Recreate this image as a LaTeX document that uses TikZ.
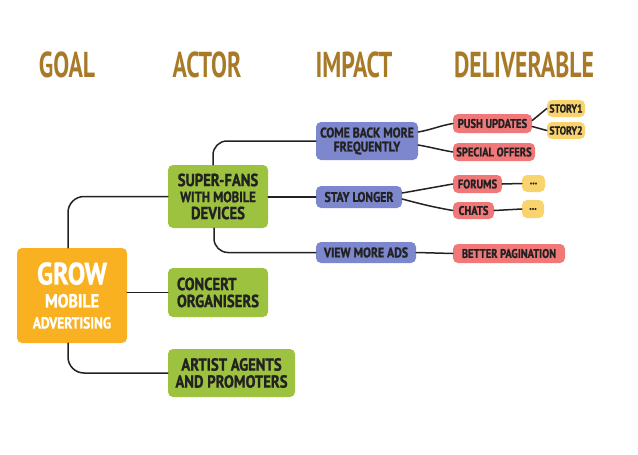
\documentclass[tikz,border=0pt]{standalone}
\usepackage{fontspec}
\newfontfamily\hand{PT Sans}[FakeStretch=0.84,FakeBold=1.2]
\newfontfamily\headf{PT Sans}[FakeStretch=0.66]
\definecolor{hdr}{HTML}{A87A28}
\definecolor{cgoal}{HTML}{F9B122}
\definecolor{cact}{HTML}{9DC240}
\definecolor{cimp}{HTML}{7C87CE}
\definecolor{cdel}{HTML}{F07879}
\definecolor{cstory}{HTML}{F9D36E}
\definecolor{ink}{HTML}{222222}
\tikzset{
  box/.style={rounded corners=5pt, inner sep=0pt, align=center, text=ink, font=\hand\bfseries},
  goalbox/.style={box, fill=cgoal, text=white, font=\hand\bfseries\fontsize{16}{13}\selectfont},
  actbox/.style={box, fill=cact, font=\hand\bfseries\fontsize{17.5}{17}\selectfont},
  impbox/.style={box, fill=cimp, font=\hand\bfseries\fontsize{14}{14}\selectfont},
  delbox/.style={box, fill=cdel, font=\hand\bfseries\fontsize{12.5}{12}\selectfont},
  storybox/.style={box, fill=cstory, font=\hand\bfseries\fontsize{11.5}{10}\selectfont},
  hdrtext/.style={text=hdr, font=\headf\bfseries\fontsize{36}{36}\selectfont, inner sep=0pt},
  link/.style={draw=ink, line width=1.5pt, line cap=round},
}
\begin{document}
\begin{tikzpicture}[x=1pt,y=-1pt]
\fill[white] (0,0) rectangle (638,455);
\useasboundingbox (0,0) rectangle (638,455);
% headers
\node[hdrtext] (hgoal) at (67,65) {GOAL};
\node[hdrtext] (hact) at (207,65) {ACTOR};
\node[hdrtext] (himp) at (354,65) {IMPACT};
\node[hdrtext] (hdel) at (524,65) {DELIVERABLE};
% goal
\node[goalbox, minimum width=110pt, minimum height=95pt] (goal) at (72,295.5)
  {{\fontsize{31}{13}\selectfont GROW}\\[8pt]{\fontsize{19}{13}\selectfont MOBILE}\\[8pt]ADVERTISING};
% actors
\node[actbox, minimum width=100pt, minimum height=63pt] (sf) at (218,196.5)
  {SUPER-FANS\\[-1pt]{\fontsize{15}{15}\selectfont WITH MOBILE}\\[0pt]DEVICES};
\node[actbox, minimum width=100pt, minimum height=49pt, align=left] (co) at (218,292.5)
  {CONCERT\\ORGANISERS\hspace{10pt}};
\node[actbox, minimum width=127pt, minimum height=48pt] (aa) at (231.5,373)
  {ARTIST AGENTS\\AND PROMOTERS};
% impacts
\node[impbox, minimum width=102pt, minimum height=38pt] (cb) at (367,141)
  {COME BACK MORE\\FREQUENTLY};
\node[impbox, minimum width=86pt, minimum height=22pt] (sl) at (359,197) {STAY LONGER};
\node[impbox, minimum width=100pt, minimum height=21pt] (vm) at (366,252.5) {VIEW MORE ADS};
% deliverables
\node[delbox, minimum width=79pt, minimum height=19pt] (pu) at (492.5,123.5) {PUSH UPDATES};
\node[delbox, minimum width=82pt, minimum height=18pt] (so) at (494,152) {SPECIAL OFFERS};
\node[delbox, minimum width=49pt, minimum height=18pt] (fo) at (477.5,184) {FORUMS};
\node[delbox, minimum width=41pt, minimum height=17pt] (ch) at (473.5,210.5) {CHATS};
\node[delbox, minimum width=112pt, minimum height=19pt] (bp) at (509,253.5) {BETTER PAGINATION};
% stories
\node[storybox, minimum width=38pt, minimum height=17pt] (s1) at (566,108.5) {STORY1};
\node[storybox, minimum width=38pt, minimum height=17pt] (s2) at (566,130.5) {STORY2};
\node[storybox, minimum width=23pt, minimum height=17pt] (d1) at (533.5,183.5) {...};
\node[storybox, minimum width=22pt, minimum height=18pt] (d2) at (533,209) {...};
% connectors
\draw[link, rounded corners=16pt] ([xshift=-4pt]goal.north) |- (sf.west);
\draw[link] (co.west -| goal.east) -- (co.west);
\draw[link, rounded corners=16pt] ([xshift=-4pt]goal.south) |- (aa.west);
\draw[link, rounded corners=14pt] ([xshift=-5pt]sf.north) |- (cb.west);
\draw[link] (sl.west -| sf.east) -- (sl.west);
\draw[link, rounded corners=14pt] ([xshift=-4pt]sf.south) |- (vm.west);
\draw[link] ([yshift=9pt]cb.east) to[out=10,in=190] (pu.west);
\draw[link] ([yshift=-4pt]cb.east) to[out=-10,in=170] (so.west);
\draw[link] ([yshift=4pt]sl.east) to[out=10,in=190] (fo.west);
\draw[link] ([yshift=-2pt]sl.east) to[out=-15,in=170] (ch.west);
\draw[link] (vm.east) -- (bp.west);
\draw[link] ([yshift=3pt]pu.east) -- (s1.west);
\draw[link] ([yshift=-3pt]pu.east) -- (s2.west);
\draw[link] (fo.east) -- (d1.west);
\draw[link] (ch.east) -- (d2.west);
\end{tikzpicture}
\end{document}
